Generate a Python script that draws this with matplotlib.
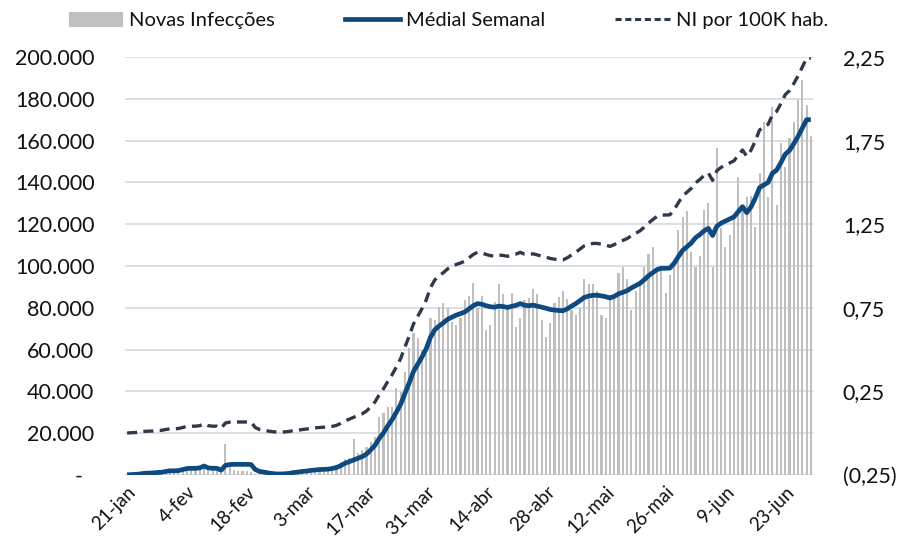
import matplotlib
matplotlib.use('Agg')
import matplotlib.pyplot as plt
from matplotlib.lines import Line2D
from matplotlib.patches import Patch
import numpy as np

plt.rcParams['font.family'] = ['Lato', 'DejaVu Sans']

# Daily data, 21-jan to 29-jun (values in thousands of cases)
novas_infeccoes = [
    0.3, 0.2, 0.2, 0.3, 0.7, 0.7, 0.9, 1.8, 1.5, 1.9,
    1.7, 2.1, 2.6, 2.8, 3.2, 3.9, 3.7, 3.2, 3.4, 2.7,
    3.0, 2.6, 2.1, 14.8, 5.1, 2.6, 2.1, 2.1, 1.9, 1.2,
    0.6, 0.9, 0.6, 0.5, 0.6, 0.9, 0.9, 1.0, 1.2, 1.5,
    1.8, 1.8, 1.9, 2.2, 2.6, 2.8, 3.5, 3.0, 3.6, 4.6,
    6.0, 7.5, 8.0, 17.2, 10.4, 12.0, 13.5, 15.9, 18.3, 27.9,
    29.5, 32.7, 32.7, 41.5, 39.9, 49.4, 60.6, 67.8, 65.4, 59.8,
    61.4, 75.0, 74.2, 80.5, 82.1, 79.8, 73.4, 71.8, 75.1, 83.7,
    85.7, 92.0, 79.8, 85.7, 69.4, 71.8, 82.9, 91.4, 86.6, 80.2,
    86.9, 71.0, 75.0, 83.7, 84.5, 88.8, 86.6, 74.2, 66.2, 72.6,
    82.1, 85.0, 88.0, 84.1, 79.0, 76.6, 79.8, 93.8, 91.2, 91.2,
    88.0, 76.6, 75.3, 86.1, 86.1, 96.8, 99.4, 93.8, 79.0, 88.0,
    91.7, 99.7, 105.7, 109.2, 98.9, 98.1, 86.9, 95.5, 102.9, 117.2,
    123.6, 126.5, 106.9, 99.7, 104.8, 126.8, 130.0, 99.7, 156.3, 118.0,
    109.2, 114.8, 123.6, 142.7, 128.0, 133.2, 133.3, 118.8, 144.4, 169.1,
    133.2, 176.2, 129.2, 158.7, 147.5, 161.1, 169.1, 179.4, 189.0, 177.0,
    162.2,
]

media_semanal = [
    0.1, 0.2, 0.3, 0.5, 0.8, 0.9, 1.0, 1.2, 1.3, 1.7,
    2.0, 2.0, 2.1, 2.6, 3.1, 3.2, 3.2, 3.4, 4.3, 3.4,
    3.2, 3.2, 2.3, 4.6, 5.0, 5.1, 5.1, 5.1, 5.1, 5.0,
    2.6, 1.7, 1.4, 1.0, 0.7, 0.5, 0.5, 0.6, 0.8, 1.2,
    1.4, 1.7, 1.9, 2.2, 2.4, 2.6, 2.7, 2.8, 3.1, 3.6,
    4.5, 5.6, 6.4, 7.2, 8.0, 8.8, 10.0, 12.0, 14.2, 17.5,
    20.2, 23.5, 26.5, 30.0, 33.8, 39.0, 44.0, 49.5, 53.0, 56.5,
    60.5, 66.0, 69.5, 71.3, 72.8, 74.5, 75.5, 76.5, 77.2, 78.0,
    79.5, 81.0, 82.0, 81.7, 81.0, 80.5, 80.3, 80.8, 80.6, 80.2,
    80.7, 81.2, 82.0, 81.2, 81.0, 81.3, 80.8, 80.3, 79.8, 79.2,
    78.9, 78.7, 78.6, 79.5, 80.8, 82.0, 83.5, 85.0, 85.6, 86.0,
    86.0, 85.7, 85.3, 84.7, 85.5, 86.7, 87.4, 88.2, 89.5, 90.6,
    91.7, 93.4, 95.3, 96.8, 98.3, 98.9, 98.9, 99.0, 101.3, 104.5,
    107.5, 109.2, 111.0, 113.5, 115.0, 116.8, 118.0, 114.6, 119.0, 120.5,
    121.5, 122.5, 123.5, 126.0, 128.4, 125.5, 128.3, 132.5, 137.5, 138.8,
    140.0, 144.4, 145.9, 149.5, 153.5, 155.3, 158.5, 162.0, 166.0, 170.0,
    170.0,
]

ni_100k = [
    0.001, 0.003, 0.004, 0.007, 0.011, 0.012, 0.013, 0.016, 0.017, 0.022,
    0.026, 0.026, 0.028, 0.034, 0.041, 0.042, 0.042, 0.045, 0.057, 0.045,
    0.042, 0.042, 0.030, 0.061, 0.066, 0.067, 0.067, 0.067, 0.067, 0.066,
    0.034, 0.022, 0.018, 0.013, 0.009, 0.007, 0.007, 0.008, 0.011, 0.016,
    0.018, 0.022, 0.025, 0.029, 0.032, 0.034, 0.036, 0.037, 0.041, 0.047,
    0.059, 0.074, 0.084, 0.095, 0.106, 0.116, 0.132, 0.158, 0.187, 0.231,
    0.266, 0.310, 0.350, 0.396, 0.446, 0.515, 0.580, 0.653, 0.699, 0.745,
    0.798, 0.871, 0.917, 0.941, 0.960, 0.983, 0.996, 1.009, 1.018, 1.029,
    1.049, 1.069, 1.082, 1.078, 1.069, 1.062, 1.059, 1.066, 1.063, 1.058,
    1.065, 1.071, 1.082, 1.071, 1.069, 1.073, 1.066, 1.059, 1.053, 1.045,
    1.041, 1.038, 1.037, 1.049, 1.066, 1.082, 1.102, 1.121, 1.129, 1.135,
    1.135, 1.131, 1.125, 1.117, 1.128, 1.144, 1.153, 1.164, 1.181, 1.195,
    1.210, 1.232, 1.257, 1.277, 1.297, 1.305, 1.305, 1.306, 1.336, 1.379,
    1.418, 1.441, 1.464, 1.497, 1.517, 1.541, 1.557, 1.512, 1.570, 1.590,
    1.603, 1.616, 1.629, 1.662, 1.694, 1.656, 1.693, 1.748, 1.814, 1.831,
    1.847, 1.905, 1.925, 1.972, 2.025, 2.049, 2.091, 2.137, 2.190, 2.243,
    2.243,
]

x_tick_labels = ['21-jan', '4-fev', '18-fev', '3-mar', '17-mar', '31-mar',
                 '14-abr', '28-abr', '12-mai', '26-mai', '9-jun', '23-jun']
left_ticks = [0, 20, 40, 60, 80, 100, 120, 140, 160, 180, 200]
left_labels = ['-  ', '20.000', '40.000', '60.000', '80.000', '100.000',
               '120.000', '140.000', '160.000', '180.000', '200.000']
right_ticks = [-0.25, 0.25, 0.75, 1.25, 1.75, 2.25]
right_labels = ['(0,25)', '0,25', '0,75', '1,25', '1,75', '2,25']

n = len(novas_infeccoes)
assert n == len(media_semanal) == len(ni_100k)
x = np.arange(n)

BAR_C = '#BFBFBF'
BLUE = '#0E4A80'
DASH = '#2E3A4A'
GRID = '#D9DDE3'
TXT = '#111111'
FS = 15.5

fig = plt.figure(figsize=(9.02, 5.41), dpi=100)
ax = fig.add_axes([125 / 902, 1 - 475 / 541, (813 - 125) / 902, (475 - 57) / 541])
ax2 = ax.twinx()

ax.set_axisbelow(True)
ax.bar(x, novas_infeccoes, width=0.5, color=BAR_C, zorder=2)
ax.plot(x, media_semanal, color=BLUE, lw=3.4, solid_capstyle='butt',
        solid_joinstyle='round', zorder=3)
ax2.plot(x, ni_100k, color=DASH, lw=2.4, dashes=(3.0, 1.9),
         dash_capstyle='butt', zorder=3)

ax.set_xlim(-0.5, n - 0.5)
ax.set_ylim(0, 200)
ax2.set_ylim(-0.25, 2.25)

ax.set_yticks(left_ticks)
ax.set_yticklabels(left_labels, fontsize=FS, color=TXT)
ax2.set_yticks(right_ticks)
ax2.set_yticklabels(right_labels, fontsize=FS, color=TXT)

ax.set_xticks(np.arange(0, n, 14)[:len(x_tick_labels)])
ax.set_xticklabels(x_tick_labels, rotation=45, ha='right',
                   rotation_mode='anchor', fontsize=13.5, color=TXT)

ax.yaxis.grid(True, color=GRID, lw=1.3)
ax.xaxis.grid(False)
for a in (ax, ax2):
    for s in a.spines.values():
        s.set_visible(False)
ax.tick_params(axis='y', length=0, pad=22)
ax.tick_params(axis='x', length=0, pad=6)
ax2.tick_params(axis='y', length=0, pad=21.5)

handles = [Patch(facecolor=BAR_C, edgecolor='none'),
           Line2D([], [], color=BLUE, lw=3.4),
           Line2D([], [], color=DASH, lw=2.2, dashes=(2.0, 1.2))]
labels = ['Novas Infecções', 'Médial Semanal', 'NI por 100K hab.']
fig.legend(handles, labels, loc='center', bbox_to_anchor=(0.497, 0.962),
           ncol=3, frameon=False, fontsize=14.5, handlelength=2.7,
           handleheight=0.8, columnspacing=3.5, handletextpad=0.3,
           labelcolor=TXT)

fig.savefig('out.png', dpi=100)
